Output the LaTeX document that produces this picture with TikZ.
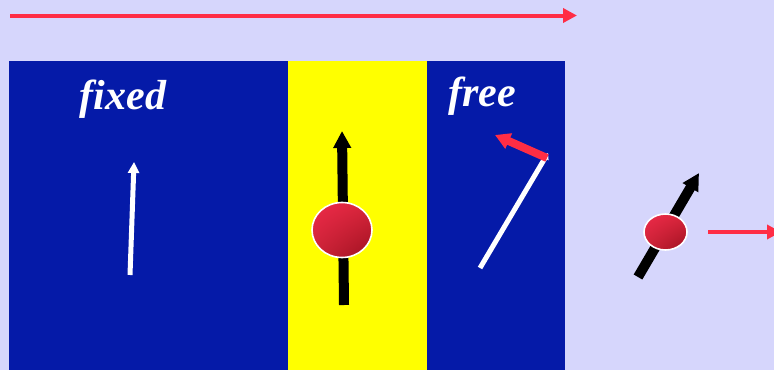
\documentclass[tikz,border=0pt]{standalone}
\usepackage{fontspec}
\setmainfont{Liberation Serif}
\usetikzlibrary{arrows.meta,shadings}
\definecolor{bg}{HTML}{D6D6FC}
\definecolor{dblue}{HTML}{051AA8}
\definecolor{spinred}{HTML}{FF2D45}
\definecolor{ballhi}{HTML}{EE2A4A}
\definecolor{balllo}{HTML}{9E1020}
\definecolor{pureyellow}{HTML}{FFFF00}
\tikzset{
  lbl/.style={text=white, font=\fontsize{42}{42}\selectfont\bfseries\itshape, inner sep=0pt, anchor=base},
  redarrow/.style={draw=spinred, line width=4pt, -{Triangle[length=14pt,width=14pt]}},
  spin/.style={draw=black, line width=10pt, -{Triangle[length=17pt,width=17pt]}},
  moment/.style={draw=white, line width=5pt, -{Triangle[length=11pt,width=11pt]}},
}
\newcommand{\ball}[3]{%
  \shade[upper left=ballhi, upper right=spinred!85!black, lower left=spinred!80!black, lower right=balllo] (#1) ellipse [x radius=#2, y radius=#3];
  \draw[white, line width=1.6pt] (#1) ellipse [x radius=#2, y radius=#3];
}
\begin{document}
\begin{tikzpicture}[x=1pt,y=-1pt]
\useasboundingbox (0,0) rectangle (774,370);
\clip (0,0) rectangle (774,370);
\fill[bg] (0,0) rectangle (774,370);
% layers
\fill[dblue] (9,61) rectangle (288,370);
\fill[pureyellow] (288,61) rectangle (427,370);
\fill[dblue] (427,61) rectangle (565,370);
% labels
\node[lbl] (fixedlbl) at (123,109) {fixed};
\node[lbl] (freelbl) at (482,106) {free};
% top current arrow
\coordinate (ta) at (10,15.5);
\coordinate (tb) at (577,15.5);
\draw[redarrow] (ta) -- (tb);
% fixed layer moment
\coordinate (fa) at (130,275);
\coordinate (fb) at (134,162);
\draw[moment] (fa) -- (fb);
% spin in spacer
\coordinate (sa) at (344,305);
\coordinate (sb) at (342,131);
\draw[spin] (sa) -- (sb);
\coordinate (b1) at (342,230);
\ball{b1}{30}{27.5}
% free layer
\coordinate (ra) at (480,268);
\coordinate (rb) at (548,153);
\draw[draw=white, line width=5pt, -{Triangle[length=6pt,width=8pt]}] (ra) -- (rb);
\coordinate (qa) at (547,158);
\coordinate (qb) at (495,135);
\draw[draw=spinred, line width=8pt, -{Triangle[length=15pt,width=16pt]}] (qa) -- (qb);
% outgoing electron
\coordinate (oa) at (638,277);
\coordinate (ob) at (699,173);
\draw[spin] (oa) -- (ob);
\coordinate (b2) at (665.5,232);
\ball{b2}{21.5}{18}
\coordinate (pa) at (708,232);
\coordinate (pb) at (781,232);
\draw[redarrow] (pa) -- (pb);
\end{tikzpicture}
\end{document}
